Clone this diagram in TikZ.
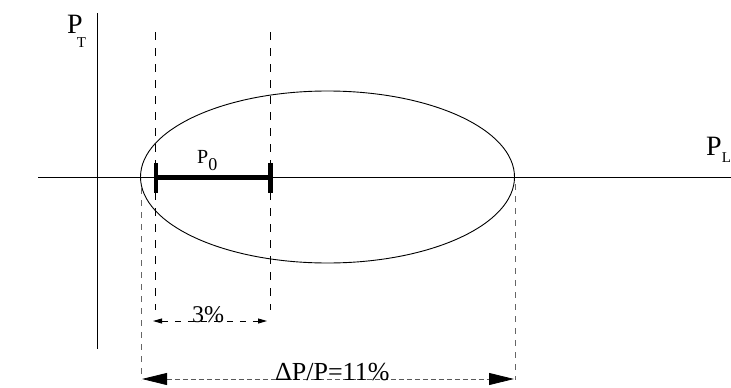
\documentclass[tikz,border=0pt]{standalone}
\usepackage{fontspec}
\setmainfont{Liberation Serif}
\usetikzlibrary{arrows.meta}
\begin{document}
\begin{tikzpicture}[x=1pt,y=-1pt,
  axis/.style={line width=0.9pt},
  guide/.style={line width=0.9pt,dash pattern=on 8pt off 8pt},
  guidethin/.style={line width=0.7pt,gray!80!black,dash pattern=on 6pt off 6pt},
  dimsmall/.style={line width=0.8pt,dash pattern=on 6pt off 7pt,{Triangle[length=9pt,width=5pt]}-{Triangle[length=9pt,width=5pt]}},
  dimbig/.style={line width=0.8pt,gray!70!black,dash pattern=on 5pt off 3pt,{Triangle[length=25pt,width=12pt,black]}-{Triangle[length=25pt,width=12pt,black]}},
  bar/.style={line width=4.2pt},
  lbl/.style={inner sep=0pt,anchor=base west}]
\useasboundingbox (0,0) rectangle (731,388);
% axes
\coordinate (xl) at (38,177.5);
\coordinate (xr) at (731,177.5);
\coordinate (yt) at (97,13);
\coordinate (yb) at (97,349);
\draw[axis] (xl) -- (xr);
\draw[axis] (yt) -- (yb);
% ellipse
\coordinate (ec) at (327.5,177);
\draw[line width=0.9pt] (ec) ellipse [x radius=187, y radius=86];
% guide lines
\coordinate (g1t) at (155,32); \coordinate (g1b) at (155,310);
\coordinate (g2t) at (270,32); \coordinate (g2b) at (270,310);
\draw[guide] (g1t) -- (g1b);
\draw[guide] (g2t) -- (g2b);
\coordinate (h1t) at (141,188); \coordinate (h1b) at (141,380);
\coordinate (h2t) at (515,184); \coordinate (h2b) at (515,380);
\draw[guidethin] (h1t) -- (h1b);
\draw[guidethin] (h2t) -- (h2b);
% P0 bar
\coordinate (b1) at (156,177.5); \coordinate (b2) at (270.5,177.5);
\draw[bar] (b1) -- (b2);
\draw[bar] ([yshift=-15pt]b1) -- ([yshift=15pt]b1);
\draw[bar] ([yshift=-15pt]b2) -- ([yshift=15pt]b2);
% dimension arrows
\coordinate (d1l) at (153,321); \coordinate (d1r) at (267,321);
\draw[dimsmall] (d1l) -- (d1r);
\coordinate (d2l) at (142,379); \coordinate (d2r) at (514,379);
\draw[dimbig] (d2l) -- (d2r);
% labels
\node[lbl,font=\fontsize{28}{30}\selectfont] (pt) at (67,33) {P\kern-6pt\raisebox{-14pt}{\fontsize{15}{15}\selectfont T}};
\node[lbl,font=\fontsize{28}{30}\selectfont] (pl) at (706,155) {P\raisebox{-7pt}{\fontsize{15}{15}\selectfont L}};
\node[lbl,font=\fontsize{20}{22}\selectfont] (p0) at (197,163) {P\raisebox{-7pt}{\fontsize{18}{18}\selectfont 0}};
\node[lbl,font=\fontsize{24}{26}\selectfont] (t3) at (192,322) {3\%};
\node[lbl,font=\fontsize{26}{28}\selectfont] (t11) at (275,380) {ΔP/P=11\%};
\end{tikzpicture}
\end{document}
